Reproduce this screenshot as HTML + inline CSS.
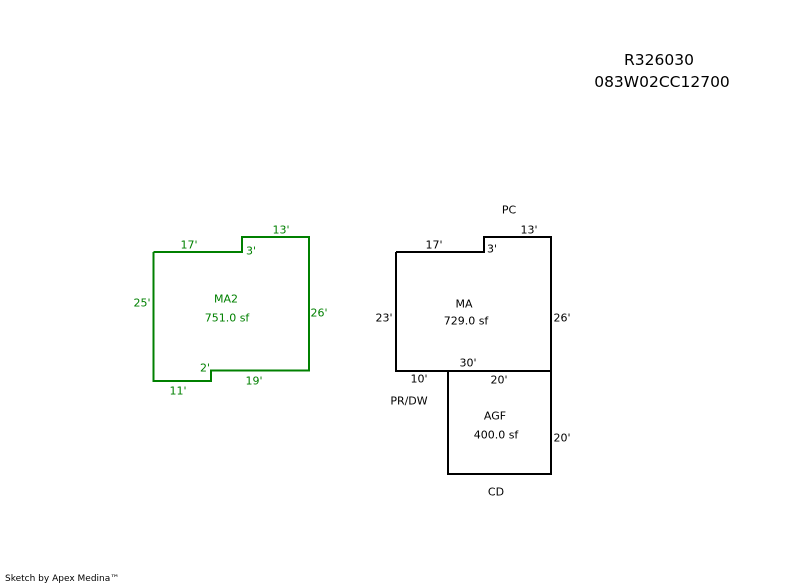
<!DOCTYPE html>
<html><head><meta charset="utf-8"><style>
html,body{margin:0;padding:0;background:#fff;}
svg{display:block;}
text{font-family:"DejaVu Sans","Liberation Sans",sans-serif;font-size:11px;dominant-baseline:central;text-anchor:middle;}
.g{fill:#008000;}
</style></head><body>
<svg width="800" height="587" viewBox="0 0 800 587" xmlns="http://www.w3.org/2000/svg">
<rect width="800" height="587" fill="#fff"/>
<text x="659" y="60" style="font-size:15.5px">R326030</text>
<text x="662" y="82" style="font-size:15.5px">083W02CC12700</text>

<polyline fill="none" stroke="#008000" stroke-width="2" points="153.5,252 242,252 242,237 309,237 309,370.5 211,370.5 211,381 153.5,381 153.5,252"/>
<g class="g">
<text class="g" x="189" y="245">17'</text>
<text class="g" x="281" y="230">13'</text>
<text class="g" x="251" y="251">3'</text>
<text class="g" x="142" y="303">25'</text>
<text class="g" x="319" y="313">26'</text>
<text class="g" x="226" y="299">MA2</text>
<text class="g" x="227" y="318">751.0 sf</text>
<text class="g" x="205" y="368">2'</text>
<text class="g" x="178" y="391">11'</text>
<text class="g" x="254" y="381">19'</text>
</g>

<polyline fill="none" stroke="#000" stroke-width="2" points="396,252 484,252 484,237 551,237 551,371 396,371 396,252"/>
<polyline fill="none" stroke="#000" stroke-width="2" points="448,371 448,474 551,474 551,371"/>
<text x="509" y="210">PC</text>
<text x="529" y="230">13'</text>
<text x="434" y="245">17'</text>
<text x="492" y="249">3'</text>
<text x="384" y="318">23'</text>
<text x="562" y="318">26'</text>
<text x="464" y="304">MA</text>
<text x="466" y="321">729.0 sf</text>
<text x="468" y="363">30'</text>
<text x="419" y="379">10'</text>
<text x="499" y="380">20'</text>
<text x="409" y="401">PR/DW</text>
<text x="495" y="416">AGF</text>
<text x="496" y="435">400.0 sf</text>
<text x="562" y="438">20'</text>
<text x="496" y="492">CD</text>

<text x="5" y="579" style="font-size:9px;text-anchor:start">Sketch by Apex Medina™</text>
</svg>
</body></html>
